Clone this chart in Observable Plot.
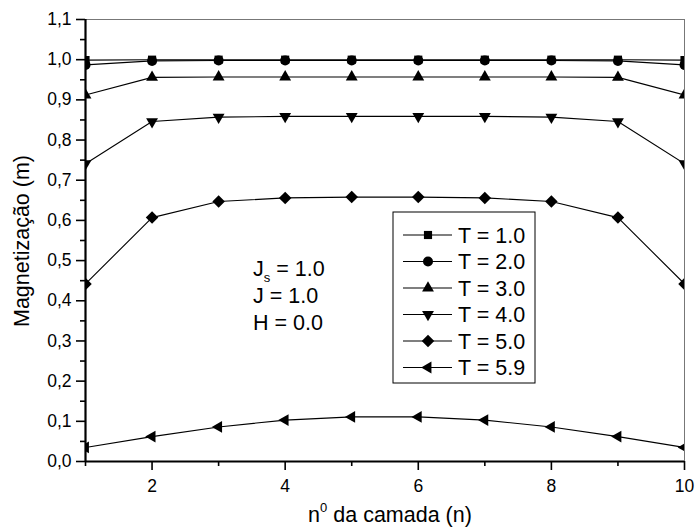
<!DOCTYPE html>
<html>
<head>
<meta charset="utf-8">
<script src="https://cdn.jsdelivr.net/npm/d3@7"></script>
<script src="https://cdn.jsdelivr.net/npm/@observablehq/plot@0.6"></script>
<style>
  body { margin: 0; background: #fff; }
  #chart { width: 696px; height: 529px; }
  svg { font-family: "Liberation Sans", Arial, sans-serif; }
</style>
</head>
<body>
<div id="chart"></div>
<script>
// Layer index n
const layers = [1, 2, 3, 4, 5, 6, 7, 8, 9, 10];

// Magnetization per layer for each temperature
const magT10 = [0.999, 1.000, 1.000, 1.000, 1.000, 1.000, 1.000, 1.000, 1.000, 0.999];
const magT20 = [0.987, 0.997, 0.998, 0.998, 0.998, 0.998, 0.998, 0.998, 0.997, 0.987];
const magT30 = [0.912, 0.956, 0.957, 0.957, 0.957, 0.957, 0.957, 0.957, 0.956, 0.912];
const magT40 = [0.741, 0.846, 0.857, 0.859, 0.859, 0.859, 0.859, 0.857, 0.846, 0.741];
const magT50 = [0.442, 0.607, 0.647, 0.656, 0.658, 0.658, 0.656, 0.647, 0.607, 0.442];
const magT59 = [0.035, 0.062, 0.086, 0.103, 0.111, 0.111, 0.103, 0.086, 0.062, 0.035];

const seriesNames = ["T = 1.0", "T = 2.0", "T = 3.0", "T = 4.0", "T = 5.0", "T = 5.9"];
const seriesValues = [magT10, magT20, magT30, magT40, magT50, magT59];

const yTicks = [0, 0.1, 0.2, 0.3, 0.4, 0.5, 0.6, 0.7, 0.8, 0.9, 1.0, 1.1];
const yMinorTicks = [0.05, 0.15, 0.25, 0.35, 0.45, 0.55, 0.65, 0.75, 0.85, 0.95, 1.05];
const xTicks = [2, 4, 6, 8, 10];
const xMinorTicks = [1, 3, 5, 7, 9];

const paramLines = [["J", "s", " = 1.0"], ["J", "", " = 1.0"], ["H", "", " = 0.0"]];

// Custom marker shapes (d3 symbol-type objects)
const sqrt3 = Math.sqrt(3);
const triangleDown = {
  draw(ctx, size) {
    const y = -Math.sqrt(size / (sqrt3 * 3));
    ctx.moveTo(0, -2 * y);
    ctx.lineTo(-sqrt3 * y, y);
    ctx.lineTo(sqrt3 * y, y);
    ctx.closePath();
  }
};
const triangleLeft = {
  draw(ctx, size) {
    const y = -Math.sqrt(size / (sqrt3 * 3));
    ctx.moveTo(2 * y, 0);
    ctx.lineTo(-y, -sqrt3 * y);
    ctx.lineTo(-y, sqrt3 * y);
    ctx.closePath();
  }
};
const diamond = {
  draw(ctx, size) {
    const d = Math.sqrt(size / 2);
    ctx.moveTo(0, -d);
    ctx.lineTo(d, 0);
    ctx.lineTo(0, d);
    ctx.lineTo(-d, 0);
    ctx.closePath();
  }
};
const symbols = [d3.symbolSquare, d3.symbolCircle, d3.symbolTriangle, triangleDown, diamond, triangleLeft];
const markerR = [4.6, 5, 4.4, 4.4, 5, 4.4];

const rows = seriesNames.flatMap((name, i) =>
  layers.map((n, j) => ({series: name, idx: i, n, m: seriesValues[i][j]}))
);

const fmt = d => d.toFixed(1).replace(".", ",");

const width = 696, height = 529;
const mL = 85, mR = 12, mT = 19, mB = 68;

const plot = Plot.plot({
  width, height,
  marginLeft: mL, marginRight: mR, marginTop: mT, marginBottom: mB,
  style: {fontFamily: "Liberation Sans, Arial, sans-serif", fontSize: "17.5px", color: "black", background: "white"},
  x: {domain: [1, 10]},
  y: {domain: [0, 1.1]},
  marks: [
    // frame: light top/right edges
    Plot.ruleY([1.1], {stroke: "#777", strokeWidth: 1}),
    Plot.ruleX([10], {stroke: "#777", strokeWidth: 1}),
    // data lines
    Plot.line(rows, {x: "n", y: "m", z: "series", stroke: "black", strokeWidth: 1.1, clip: true}),
    // markers
    ...seriesNames.map((name, i) =>
      Plot.dot(rows.filter(r => r.idx === i), {
        x: "n", y: "m", symbol: symbols[i], r: markerR[i],
        fill: "black", stroke: "none", clip: true
      })
    ),
    // axes
    Plot.axisX({ticks: xTicks, tickSize: 9, tickPadding: 9, tickFormat: d => String(d), label: null, strokeWidth: 1.6}),
    Plot.axisX({ticks: xMinorTicks, tickSize: 5, text: null, label: null, strokeWidth: 1.6}),
    Plot.axisY({ticks: yTicks, tickSize: 9, tickPadding: 5, tickFormat: fmt, label: null, strokeWidth: 1.6}),
    Plot.axisY({ticks: yMinorTicks, tickSize: 5, text: null, label: null, strokeWidth: 1.6}),
    Plot.ruleX([1], {stroke: "black", strokeWidth: 2.2}),
    Plot.ruleY([0], {stroke: "black", strokeWidth: 2.2})
  ]
});

document.getElementById("chart").appendChild(plot);

const svg = d3.select(plot);
const font = "Liberation Sans, Arial, sans-serif";

// Axis titles
const xt = svg.append("text")
  .attr("x", 390).attr("y", 522)
  .attr("text-anchor", "middle")
  .attr("font-family", font).attr("font-size", 21.5).attr("fill", "black");
xt.append("tspan").text("n");
xt.append("tspan").attr("font-size", 13).attr("dy", -10).text("0");
xt.append("tspan").attr("dy", 10).text(" da camada (n)");

svg.append("text")
  .attr("transform", "translate(29,241) rotate(-90)")
  .attr("text-anchor", "middle")
  .attr("font-family", font).attr("font-size", 21.5).attr("fill", "black")
  .text("Magnetização (m)");

// Parameter annotation
const ann = svg.append("g").attr("font-family", font).attr("font-size", 21.5)
  .attr("fill", "black").attr("text-anchor", "start");
paramLines.forEach(([a, sub, rest], i) => {
  const t = ann.append("text").attr("x", 253).attr("y", 276 + i * 27);
  t.append("tspan").text(a);
  if (sub) {
    t.append("tspan").attr("font-size", 13).attr("dy", 6).text(sub);
    t.append("tspan").attr("dy", -6).text(rest);
  } else {
    t.append("tspan").text(rest);
  }
});

// Legend box
const lg = svg.append("g").attr("transform", "translate(393,212)").attr("text-anchor", "start");
lg.append("rect").attr("width", 142).attr("height", 171)
  .attr("fill", "white").attr("stroke", "black").attr("stroke-width", 1);
seriesNames.forEach((name, i) => {
  const cy = 23 + i * 26.5;
  lg.append("line").attr("x1", 10).attr("x2", 59).attr("y1", cy).attr("y2", cy)
    .attr("stroke", "black").attr("stroke-width", 1.1);
  lg.append("path")
    .attr("transform", `translate(35,${cy})`)
    .attr("d", d3.symbol(symbols[i], Math.PI * markerR[i] * markerR[i])())
    .attr("fill", "black");
  lg.append("text").attr("x", 65).attr("y", cy + 7.5)
    .attr("font-family", font).attr("font-size", 21.5).attr("fill", "black")
    .text(name);
});
</script>
</body>
</html>
